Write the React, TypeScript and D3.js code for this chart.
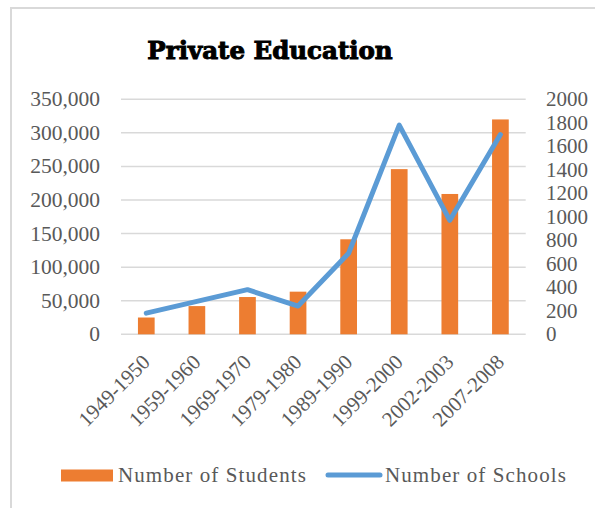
import React from "react";
import * as d3 from "d3";

const categories = ["1949-1950", "1959-1960", "1969-1970", "1979-1980", "1989-1990", "1999-2000", "2002-2003", "2007-2008"];
const students = [25000, 42000, 55500, 63500, 141500, 246000, 209000, 320000];
const schools = [180, 280, 380, 240, 690, 1780, 970, 1700];
const leftTicks = [0, 50000, 100000, 150000, 200000, 250000, 300000, 350000];
const rightTicks = [0, 200, 400, 600, 800, 1000, 1200, 1400, 1600, 1800, 2000];

const W = 595, H = 508;
const plot = { left: 121, right: 525.7, top: 99.3, bottom: 334.3 };
const textColor = "#595959";
const serif = "'Liberation Serif', 'Times New Roman', serif";

export default function App() {
  const x = d3.scaleBand<string>().domain(categories).range([plot.left, plot.right]).paddingInner(0.67).paddingOuter(0.335);
  const band = d3.scaleBand<string>().domain(categories).range([plot.left, plot.right]);
  const yL = d3.scaleLinear().domain([0, 350000]).range([plot.bottom, plot.top]);
  const yR = d3.scaleLinear().domain([0, 2000]).range([plot.bottom, plot.top]);
  const fmt = d3.format(",");
  const line = d3.line<number>()
    .x((_, i) => (band(categories[i]) as number) + band.bandwidth() / 2)
    .y((d) => yR(d));

  return (
    <svg width={W} height={H} style={{ position: "absolute", left: 0, top: 0, background: "#fff" }}>
      <rect x={11} y={8} width={W + 10} height={H + 10} fill="#fff" stroke="#D9D9D9" strokeWidth={2} />
      <text x={270} y={59} textAnchor="middle" fontFamily="'DejaVu Serif', serif" fontWeight="bold" fontSize={24.5} fill="#000" stroke="#000" strokeWidth={1}>
        Private Education
      </text>
      {leftTicks.map((t) => (
        <g key={"l" + t}>
          <line x1={plot.left} x2={plot.right} y1={yL(t)} y2={yL(t)} stroke="#D9D9D9" strokeWidth={1.5} />
          <text x={100} y={yL(t) + 7} textAnchor="end" fontFamily={serif} fontSize={21.5} fill={textColor}>
            {fmt(t)}
          </text>
        </g>
      ))}
      {rightTicks.map((t) => (
        <text key={"r" + t} x={546} y={yR(t) + 7} textAnchor="start" fontFamily={serif} fontSize={21} fill={textColor}>
          {t}
        </text>
      ))}
      {students.map((v, i) => (
        <rect key={"b" + i} x={x(categories[i])} y={yL(v)} width={x.bandwidth()} height={yL(0) - yL(v)} fill="#ED7D31" />
      ))}
      <path d={line(schools) || ""} fill="none" stroke="#5B9BD5" strokeWidth={5} strokeLinejoin="round" strokeLinecap="round" />
      {categories.map((c) => {
        const cx = (band(c) as number) + band.bandwidth() / 2 + 5;
        const cy = plot.bottom + 29;
        return (
          <text key={"c" + c} x={cx} y={cy} transform={`rotate(-45 ${cx} ${cy})`} textAnchor="end" fontFamily={serif} fontSize={21} fill={textColor}>
            {c}
          </text>
        );
      })}
      <rect x={61} y={469.5} width={52} height={12} fill="#ED7D31" />
      <text x={118} y={482} fontFamily={serif} fontSize={21} letterSpacing={1.1} fill={textColor}>Number of Students</text>
      <line x1={328} x2={380} y1={475} y2={475} stroke="#5B9BD5" strokeWidth={5} strokeLinecap="round" />
      <text x={385} y={482} fontFamily={serif} fontSize={21} letterSpacing={1.1} fill={textColor}>Number of Schools</text>
    </svg>
  );
}
